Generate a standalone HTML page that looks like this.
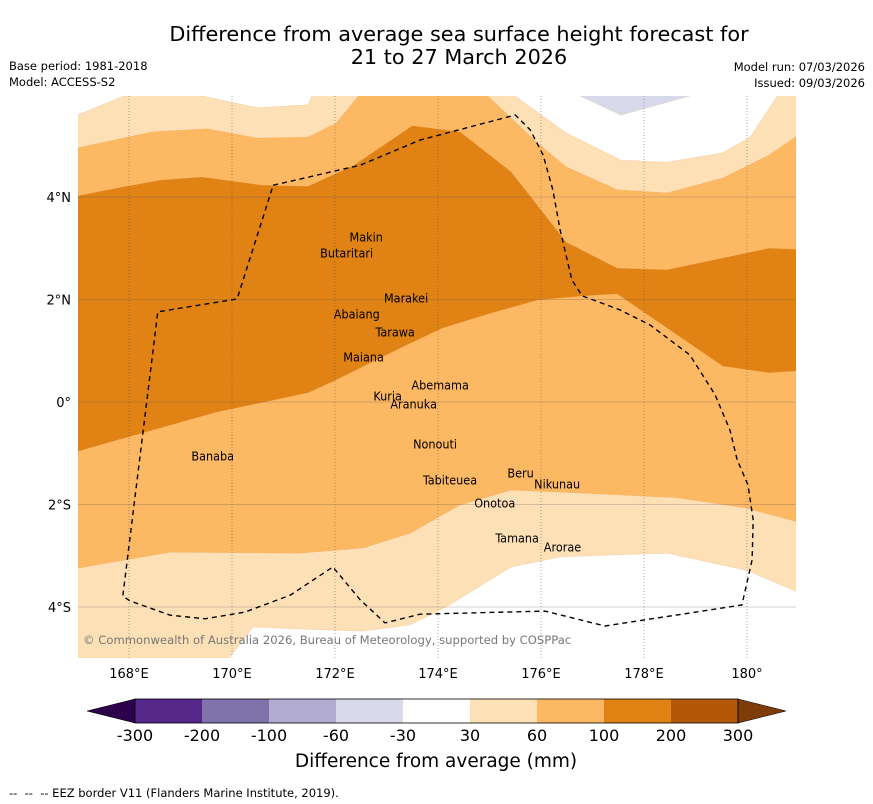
<!DOCTYPE html>
<html><head><meta charset="utf-8"><style>
body{margin:0;background:#fff;width:873px;height:804px;overflow:hidden;font-family:"DejaVu Sans","Liberation Sans",sans-serif}
svg{position:absolute;left:0;top:0}
</style></head><body>
<svg id="chart" width="873" height="804"></svg>
<script>
const categoryEdges=[-300,-200,-100,-60,-30,30,60,100,200,300];
const categoryColors=["#542788","#8073ac","#b2abd2","#d8daeb","#ffffff","#fee0b6","#fdb863","#e08214","#b35806"];
const lonTicks=[168,170,172,174,176,178,180];
const lonTickLabels=["168°E","170°E","172°E","174°E","176°E","178°E","180°"];
const latTicks=[4,2,0,-2,-4];
const latTickLabels=["4°N","2°N","0°","2°S","4°S"];
const whiteTopLeftA=[[167,5.60],[168.45,6.2],[167,6.2]];
const whiteTopLeftB=[[169.42,6.2],[169.42,5.97],[170.50,5.74],[171.48,5.80],[171.65,6.2]];
const whiteTopRight=[[175.50,6.2],[175.50,5.97],[176.49,5.25],[177.55,4.72],[178.45,4.68],[179.53,4.86],[180.06,5.17],[180.74,6.2]];
const lavenderTop=[[176.76,6.2],[176.76,5.97],[177.55,5.60],[178.89,5.97],[178.89,6.2]];
const whiteBottom=[[169.79,-5.2],[170.41,-4.39],[171.30,-4.43],[172.54,-4.47],[173.46,-4.35],[174.16,-4.00],[175.42,-3.22],[176.39,-3.02],[178.45,-2.95],[179.98,-3.28],[181.2,-3.80],[181.2,-5.2]];
const midBand=[[167,4.96],[168.45,5.27],[169.51,5.33],[170.50,5.15],[171.48,5.17],[172.02,5.44],[172.64,6.2],[174.97,6.2],[174.97,5.97],[175.94,5.05],[176.49,4.59],[177.48,4.14],[178.45,4.08],[179.53,4.37],[180.43,4.82],[181.2,5.35],[181.2,-2.40],[179.98,-2.07],[178.64,-1.87],[176.83,-1.78],[175.42,-1.72],[174.43,-2.01],[173.46,-2.56],[172.54,-2.85],[171.30,-2.95],[168.80,-2.93],[166.8,-3.28]];
const darkBand=[[166.8,3.98],[167.90,4.20],[168.62,4.33],[169.42,4.39],[170.58,4.23],[171.48,4.21],[172.37,4.62],[173.50,5.39],[174.43,5.27],[175.42,4.49],[176.49,3.12],[177.48,2.61],[178.45,2.58],[180.43,3.00],[181.2,2.97],[181.2,0.62],[180.43,0.57],[179.53,0.70],[177.48,2.11],[176.83,2.07],[175.94,1.99],[175.05,1.74],[174.08,1.44],[173.26,1.05],[172.02,0.43],[171.48,0.18],[169.69,-0.20],[168.45,-0.55],[166.8,-1.02]];
const eezLon=[170.80,172.49,173.65,175.50,175.79,176.04,176.23,176.37,176.60,176.80,177.53,178.12,178.89,179.38,179.67,179.81,180.02,180.12,180.10,179.90,177.24,176.08,173.65,172.97,172.49,171.96,171.13,170.25,169.48,168.80,168.02,167.88,168.56,170.10,170.80];
const eezLat=[4.23,4.62,5.11,5.60,5.31,4.82,4.14,3.36,2.38,2.07,1.80,1.50,0.92,0.14,-0.55,-1.13,-1.62,-2.30,-3.08,-3.96,-4.37,-4.08,-4.14,-4.31,-3.86,-3.22,-3.77,-4.10,-4.23,-4.16,-3.88,-3.79,1.76,2.01,4.23];
const islandNames=["Makin","Butaritari","Marakei","Abaiang","Tarawa","Maiana","Abemama","Kuria","Aranuka","Banaba","Nonouti","Beru","Nikunau","Tabiteuea","Onotoa","Tamana","Arorae"];
const islandLon=[172.93,172.74,173.81,172.87,173.55,172.95,174.60,173.30,173.98,170.04,174.37,175.86,176.76,174.76,175.50,175.96,176.78];
const islandLat=[3.22,2.91,2.03,1.72,1.37,0.88,0.33,0.12,-0.04,-1.05,-0.82,-1.39,-1.60,-1.52,-1.97,-2.65,-2.83];

const X0=129,DX=51.5,Y0=402,DY=51.25;
function xs(lon){return X0+(lon-168)*DX;}
function ys(lat){return Y0-lat*DY;}
const svg=document.getElementById('chart');
const NS="http://www.w3.org/2000/svg";
function mk(tag,attrs,parent){const e=document.createElementNS(NS,tag);for(const k in attrs)e.setAttribute(k,attrs[k]);(parent||svg).appendChild(e);return e;}
function pts(arr){return arr.map(p=>xs(p[0]).toFixed(1)+","+ys(p[1]).toFixed(1)).join(" ");}

const defs=mk('defs',{});
const cp=mk('clipPath',{id:'mapclip'},defs);
mk('rect',{x:78,y:96,width:718,height:562},cp);
const map=mk('g',{'clip-path':'url(#mapclip)'});


let r=mk('rect',{x:78,y:96,width:718,height:562,fill:categoryColors[5]},map);


const layers=[[whiteTopLeftA,categoryColors[4],'contour-white-top-left'],[whiteTopLeftB,categoryColors[4],'contour-white-top-gap'],[whiteTopRight,categoryColors[4],'contour-white-top-right'],[lavenderTop,categoryColors[3],'contour-lavender'],[whiteBottom,categoryColors[4],'contour-white-bottom'],[midBand,categoryColors[6],'contour-60-100'],[darkBand,categoryColors[7],'contour-100-200']];
layers.forEach(l=>{const p=mk('polygon',{points:pts(l[0]),fill:l[1],stroke:'#e0a060','stroke-width':0.4,'stroke-opacity':0.5},map);

});
lonTicks.forEach(lon=>{const g=mk('line',{x1:xs(lon),x2:xs(lon),y1:96,y2:658,stroke:'#555','stroke-width':0.7,'stroke-dasharray':'1,2','stroke-opacity':0.7},map);

});
latTicks.forEach(lat=>{const g=mk('line',{x1:78,x2:796,y1:ys(lat),y2:ys(lat),stroke:'#555','stroke-width':0.8,'stroke-opacity':0.35},map);

});
const eez=mk('polyline',{points:eezLon.map((l,i)=>xs(l).toFixed(1)+","+ys(eezLat[i]).toFixed(1)).join(" "),fill:'none',stroke:'#000','stroke-width':1.4,'stroke-dasharray':'5,4'},map);


islandNames.forEach((n,i)=>{const t=mk('text',{x:xs(islandLon[i]),y:ys(islandLat[i])+4.5,'font-size':12.5,'text-anchor':'end',fill:'#000','font-family':'"DejaVu Sans Condensed","DejaVu Sans",sans-serif'},map);
t.textContent=n;

});
const cr=mk('text',{x:83,y:644,'font-size':11.6,fill:'#777'},map);
cr.textContent='© Commonwealth of Australia 2026, Bureau of Meteorology, supported by COSPPac';


lonTicks.forEach((lon,i)=>{const t=mk('text',{x:xs(lon),y:678,'font-size':13,'text-anchor':'middle'});t.textContent=lonTickLabels[i];

});
latTicks.forEach((lat,i)=>{const t=mk('text',{x:71,y:ys(lat)+5,'font-size':13,'text-anchor':'end'});t.textContent=latTickLabels[i];

});
const cbL=135,cbW=67,cbY=699,cbH=24;
let tri=mk('polygon',{points:`87,711 ${cbL},${cbY} ${cbL},${cbY+cbH}`,fill:'#2d004b',stroke:'#000','stroke-width':0.6});


categoryColors.forEach((c,i)=>{const b=mk('rect',{x:cbL+i*cbW,y:cbY,width:cbW,height:cbH,fill:c});

});
const cbR=cbL+categoryColors.length*cbW;
tri=mk('polygon',{points:`${cbR},${cbY} 786,711 ${cbR},${cbY+cbH}`,fill:'#7f3b08',stroke:'#000','stroke-width':0.6});


mk('rect',{x:cbL,y:cbY,width:cbR-cbL,height:cbH,fill:'none',stroke:'#000','stroke-width':0.8});
categoryEdges.forEach((v,i)=>{const t=mk('text',{x:cbL+i*cbW,y:741,'font-size':16,'text-anchor':'middle'});t.textContent=v;

});
function txt(s,a,name){const t=mk('text',a);t.textContent=s;}
txt('Difference from average (mm)',{x:436,y:767,'font-size':18.5,'text-anchor':'middle'},'colorbar-title');
txt('Difference from average sea surface height forecast for',{x:459,y:41,'font-size':20.8,'text-anchor':'middle'},'title-line-1');
txt('21 to 27 March 2026',{x:459,y:64,'font-size':20.8,'text-anchor':'middle'},'title-line-2');
txt('Base period: 1981-2018',{x:9,y:70,'font-size':11.5},'base-period-note');
txt('Model: ACCESS-S2',{x:9,y:86,'font-size':11.5},'model-note');
txt('Model run: 07/03/2026',{x:865,y:71,'font-size':11.5,'text-anchor':'end'},'model-run-note');
txt('Issued: 09/03/2026',{x:865,y:87,'font-size':11.5,'text-anchor':'end'},'issued-note');
txt('--  --  -- EEZ border V11 (Flanders Marine Institute, 2019).',{x:9,y:797,'font-size':11.5,'style':'white-space:pre'},'eez-footnote');
</script>
</body></html>
